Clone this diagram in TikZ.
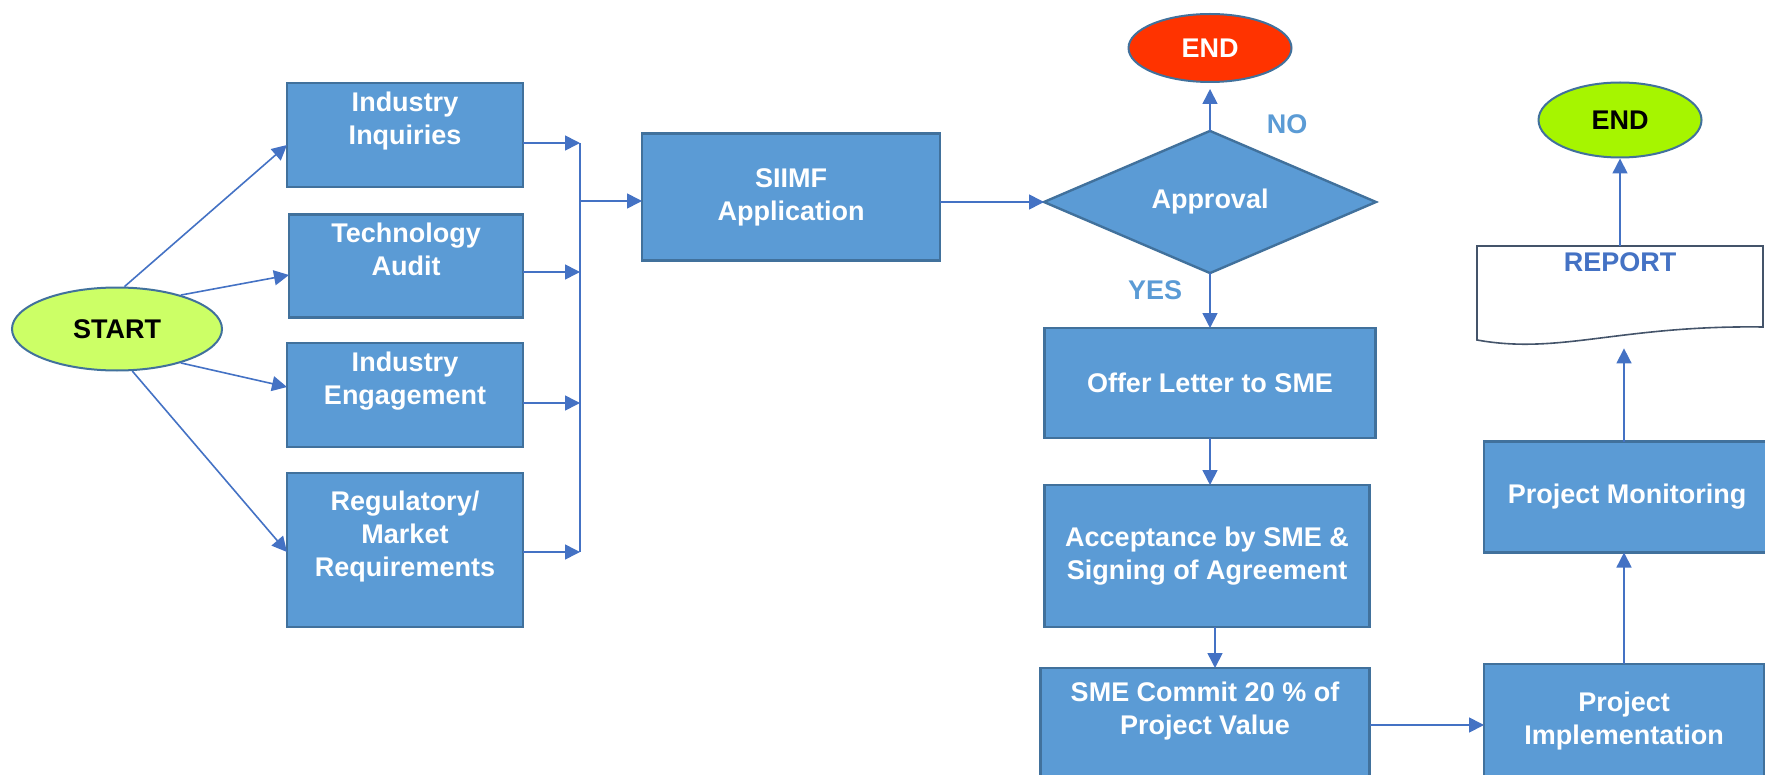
\documentclass[tikz,border=0pt]{standalone}
\usepackage{fontspec}
\setmainfont{Liberation Sans}
\usepackage{xcolor}
\usetikzlibrary{arrows.meta, positioning, shapes.geometric}

\definecolor{boxblue}{HTML}{5B9BD5}
\definecolor{boxedge}{HTML}{41719C}
\definecolor{linkblue}{HTML}{4472C4}
\definecolor{startgreen}{HTML}{CCFF66}
\definecolor{endgreen}{HTML}{A6F500}
\definecolor{endred}{HTML}{FF3300}
\definecolor{docedge}{HTML}{44546A}

\begin{document}
\begin{tikzpicture}[
    x=0.5pt, y=-0.5pt,
    % Base style for the blue process boxes
    box/.style={
        rectangle,
        draw=boxedge,
        line width=1.2pt,
        fill=boxblue,
        text=white,
        align=center,
        font=\fontsize{13.5}{16.5}\selectfont\bfseries,
        inner sep=0pt,
        outer sep=0pt
    },
    % Decision diamond
    decision/.style={
        box,
        diamond
    },
    % START / END ovals
    terminal/.style={
        ellipse,
        draw=boxedge,
        line width=1pt,
        font=\fontsize{13.5}{16.5}\selectfont\bfseries,
        inner sep=0pt,
        minimum width=81.5pt,
        minimum height=35pt
    },
    % Connectors
    link/.style={
        draw=linkblue,
        line width=0.8pt,
        -{Triangle[length=7.5pt, width=7.5pt]}
    },
    % YES / NO labels
    answer/.style={
        text=boxblue,
        font=\fontsize{13.5}{16.5}\selectfont\bfseries
    }
]
    \useasboundingbox (0,0) rectangle (1765,775);

    % --- START ---
    \node[terminal, fill=startgreen, minimum width=105pt, minimum height=41.5pt] (start) at (117,329) {START};

    % --- SOURCES (left column) ---
    \node[box, minimum width=118pt, minimum height=52pt] (inquiries) at (405,135) {Industry\\Inquiries\\~};
    \node[box, minimum width=117pt, minimum height=51.5pt] (audit) at (406,266) {Technology\\Audit\\~};
    \node[box, minimum width=118pt, minimum height=52pt] (engage) at (405,395) {Industry\\Engagement\\~};
    \node[box, minimum width=118pt, minimum height=77pt] (regul) at (405,550) {Regulatory/\\Market\\Requirements\\~};

    \draw[link] (start.80) -- ([yshift=-5pt]inquiries.west);
    \draw[link] (start.28) -- ([yshift=-4.5pt]audit.west);
    \draw[link] (start.-28) -- ([yshift=4pt]engage.west);
    \draw[link] (start.-70) -- ([yshift=-1pt]regul.west);

    % --- COLLECTOR LINE ---
    \coordinate (bustop) at (580,143);
    \coordinate (busmid) at (580,272);
    \coordinate (buslow) at (580,403);
    \coordinate (busbot) at (580,552);
    \coordinate (busout) at (580,201);
    \draw[linkblue, line width=0.9pt] (bustop) -- (busbot);
    \draw[link] (inquiries.east |- bustop) -- (bustop);
    \draw[link] (audit.east |- busmid) -- (busmid);
    \draw[link] (engage.east |- buslow) -- (buslow);
    \draw[link] (regul.east |- busbot) -- (busbot);

    % --- APPLICATION AND DECISION ---
    \node[box, minimum width=149pt, minimum height=63.5pt] (siimf) at (791,197) {SIIMF\\Application};
    \draw[link] (busout) -- (busout -| siimf.west);

    \node[decision, minimum width=166pt, minimum height=68pt] (approval) at (1210,202) {Approval};
    \draw[link] (approval.west -| siimf.east) -- (approval.west);

    \node[terminal, fill=endred, text=white, minimum height=34pt] (endno) at (1210,48) {END};
    \draw[link, shorten >=3pt] (approval.north) -- (endno.south);
    \node[answer] (no) at (1287,124) {NO};
    \node[answer] (yes) at (1155,290) {YES};

    % --- AGREEMENT (middle column) ---
    \node[box, minimum width=165.5pt, minimum height=55pt] (offer) at (1210,383) {Offer Letter to SME};
    \node[box, minimum width=162.5pt, minimum height=71pt] (accept) at (1207,556) {Acceptance by SME \&\\Signing of Agreement};
    \node[box, minimum width=164.5pt, minimum height=57pt] (commit) at (1205,725) {SME Commit 20 \% of\\Project Value\\~};

    \draw[link] (approval.south) -- (offer.north);
    \draw[link] (offer.south) -- (offer.south |- accept.north);
    \draw[link] ([xshift=4pt]accept.south) -- ([xshift=4pt]accept.south |- commit.north);

    % --- IMPLEMENTATION (right column) ---
    \node[box, minimum width=140pt, minimum height=57pt] (impl) at (1624,721) {Project\\Implementation};
    \node[box, minimum width=143pt, minimum height=55.5pt] (monitor) at (1627,497) {Project Monitoring};
    \draw[link] (commit.east) -- (commit.east -| impl.west);
    \draw[link] (impl.north) -- (impl.north |- monitor.south);

    % --- REPORT ---
    \node[minimum width=143pt, minimum height=51pt, inner sep=0pt] (report) at (1620,297) {};
    \draw[docedge, line width=0.8pt, fill=white] (1477,246) -- (1763,246) -- (1763,327)
        .. controls (1620,325) and (1560,355) .. (1477,340) -- cycle;
    \node[text=linkblue, font=\fontsize{13.5}{16.5}\selectfont\bfseries, below=0pt of report.north] (reporttitle) {REPORT};
    \draw[link] (impl.north |- monitor.north) -- (impl.north |- report.south);

    \node[terminal, fill=endgreen, minimum height=37.5pt] (endyes) at (1620,120) {END};
    \draw[link] (report.north) -- (endyes.south);

\end{tikzpicture}
\end{document}
